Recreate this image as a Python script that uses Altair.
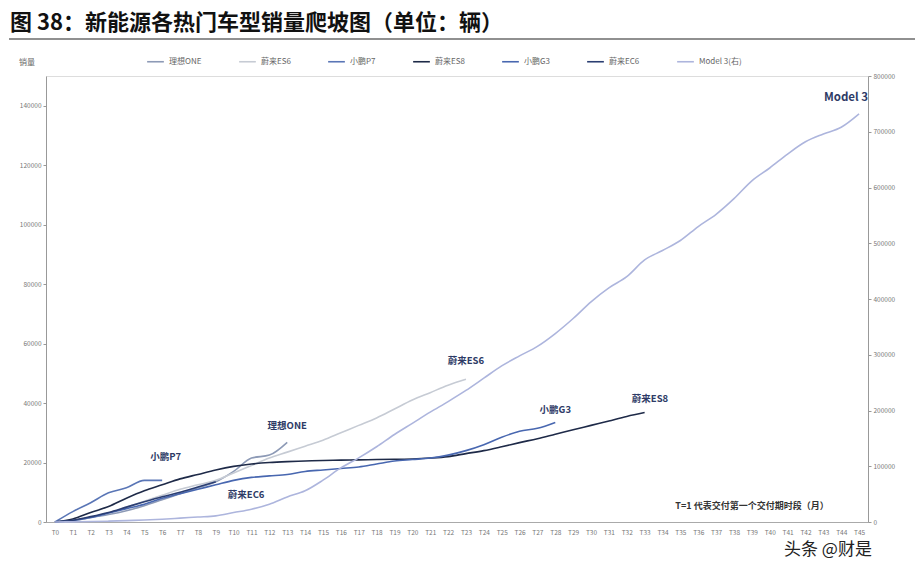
import altair as alt
import pandas as pd

# ---------------- data ----------------
T_INDEX = list(range(46))  # T0 .. T45

li_one = [0, 500, 1500, 2500, 3800, 5500, 7500, 9500, 11500, 13500, 17000, 21500, 22500, 26800]
nio_es6 = [0, 400, 1500, 3000, 5000, 7000, 9000, 11000, 12500, 14000, 16500, 19000, 21500, 23500,
           25500, 27500, 30000, 32500, 35000, 38000, 41000, 43500, 46000, 48000]
xpeng_p7 = [0, 3500, 6500, 9800, 11500, 14000, 14000]
nio_es8 = [0, 1000, 3200, 5200, 8000, 10500, 12500, 14500, 16000, 17500, 18700, 19500, 20000, 20300,
           20500, 20700, 20800, 20900, 21000, 21100, 21200, 21500, 22000, 23000, 24000, 25300, 26700,
           28000, 29500, 31000, 32500, 34000, 35500, 36800]
xpeng_g3 = [0, 500, 1500, 3000, 4500, 6000, 8000, 9500, 11000, 12500, 14000, 15000, 15500, 16000,
            17000, 17500, 18000, 18500, 19500, 20500, 21000, 21500, 22500, 24000, 26000, 28500, 30500,
            31500, 33500]
nio_ec6 = [0, 600, 1800, 3200, 5000, 6800, 8500, 10000, 11800, 13500]
model3 = [0, 300, 800, 1500, 2500, 3500, 5000, 7000, 9000, 11000, 17000, 23000, 32000, 45000, 56000,
          75000, 97000, 115000, 135000, 157000, 177000, 197000, 216000, 236000, 258000, 280000, 298000,
          315000, 338000, 365000, 395000, 420000, 440000, 470000, 487000, 505000, 530000, 552000,
          580000, 612000, 635000, 660000, 682000, 696000, 708000, 732000]

names = ["理想ONE", "蔚来ES6", "小鹏P7", "蔚来ES8", "小鹏G3", "蔚来EC6", "Model 3(右)"]
colors = ["#8d9ab6", "#c6cbd4", "#5a76b6", "#1e2a48", "#4867b0", "#2b3e72", "#adb5dd"]
widths = [1.6, 1.6, 1.6, 2.6, 1.6, 1.6, 1.6]

left_series = {"理想ONE": li_one, "蔚来ES6": nio_es6, "小鹏P7": xpeng_p7,
               "蔚来ES8": nio_es8, "小鹏G3": xpeng_g3, "蔚来EC6": nio_ec6}

# inline label anchors (T position, left-axis value)
label_names = ["小鹏P7", "理想ONE", "蔚来EC6", "蔚来ES6", "小鹏G3", "蔚来ES8"]
label_t = [6.2, 13.0, 10.7, 23.0, 28.0, 33.3]
label_v = [21800, 32200, 9000, 54000, 37600, 41300]

left_ticks = [0, 20000, 40000, 60000, 80000, 100000, 120000, 140000]
right_ticks = [0, 100000, 200000, 300000, 400000, 500000, 600000, 700000, 800000]

# ---------------- frames ----------------
rows = []
for n, vals in left_series.items():
    for i, v in enumerate(vals):
        rows.append({"name": n, "t": i, "v": v})
left_df = pd.DataFrame(rows)
right_df = pd.DataFrame({"name": "Model 3(右)", "t": T_INDEX, "v": model3})
lab_df = pd.DataFrame({"name": label_names, "t": label_t, "v": label_v})
one = pd.DataFrame({"a": [0]})

FONT = "Noto Sans CJK SC"
W, H = 822, 446

x_axis = alt.Axis(values=T_INDEX, labelExpr="'T' + datum.value", title=None,
                  labelFontSize=6.5, labelColor="#777", domainColor="#aaa",
                  tickSize=0, grid=False, labelAngle=0, labelPadding=7,
                  labelOverlap=False, tickCount=46)
x_scale = alt.Scale(domain=[-0.5, 45.5], nice=False, zero=False)

def xe():
    return alt.X("t:Q", scale=x_scale, axis=x_axis)

color_enc = alt.Color("name:N", scale=alt.Scale(domain=names, range=colors),
                      legend=alt.Legend(orient="none", legendX=100, legendY=-24,
                                        direction="horizontal", columns=7,
                                        symbolType="stroke", symbolSize=280,
                                        symbolStrokeWidth=2, labelFontSize=8,
                                        labelColor="#666", columnPadding=33,
                                        title=None, labelFont=FONT))
sw_enc = alt.StrokeWidth("name:N", scale=alt.Scale(domain=names, range=widths), legend=None)

left_lines = alt.Chart(left_df).mark_line(interpolate="monotone").encode(
    x=xe(),
    y=alt.Y("v:Q", scale=alt.Scale(domain=[0, 150000], nice=False),
            axis=alt.Axis(values=left_ticks, format="d", title=None, labelFontSize=6.5,
                          labelColor="#777", grid=False, domainColor="#999",
                          tickSize=3, tickColor="#999")),
    color=color_enc,
    strokeWidth=sw_enc,
    detail="name:N",
)

right_line = alt.Chart(right_df).mark_line(interpolate="monotone").encode(
    x=xe(),
    y=alt.Y("v:Q", scale=alt.Scale(domain=[0, 800000], nice=False),
            axis=alt.Axis(orient="right", values=right_ticks, format="d", title=None,
                          labelFontSize=6.5, labelColor="#777", grid=False,
                          domainColor="#999", tickSize=3, tickColor="#999")),
    color=alt.Color("name:N"),
    strokeWidth=alt.StrokeWidth("name:N"),
)

labels = alt.Chart(lab_df).mark_text(fontSize=9.5, fontWeight="bold", color="#2e3b66",
                                     font=FONT).encode(
    x=xe(),
    y=alt.Y("v:Q", scale=alt.Scale(domain=[0, 150000], nice=False), axis=None),
    text="name:N",
)

m3_label = alt.Chart(one).mark_text(text="Model 3", fontSize=11.5, fontWeight="bold",
                                    color="#2e3b66", font=FONT, align="center").encode(
    x=alt.value(800), y=alt.value(22))

title = alt.Chart(one).mark_text(text="图 38：新能源各热门车型销量爬坡图（单位：辆）", fontSize=22,
                                 fontWeight="bold", color="#111", font=FONT, align="left",
                                 baseline="middle").encode(x=alt.value(-36), y=alt.value(-53))

top_rule = alt.Chart(one).mark_rule(color="#222", strokeWidth=1.2).encode(
    x=alt.value(-37), x2=alt.value(872), y=alt.value(-37))
bottom_rule = alt.Chart(one).mark_rule(color="#222", strokeWidth=1.2).encode(
    x=alt.value(-37), x2=alt.value(860), y=alt.value(486))

ytitle = alt.Chart(one).mark_text(text="销量", fontSize=8, color="#666", font=FONT).encode(
    x=alt.value(-19), y=alt.value(-13))

note = alt.Chart(one).mark_text(text="T=1 代表交付第一个交付期时段（月）", fontSize=9,
                                fontWeight="bold", color="#333", font=FONT, align="center").encode(
    x=alt.value(706), y=alt.value(430))

watermark = alt.Chart(one).mark_text(text="头条 @财是", fontSize=17, color="#222", font=FONT,
                                     align="left").encode(x=alt.value(738), y=alt.value(474))

chart = alt.layer(
    left_lines, right_line, labels, m3_label, title, top_rule, bottom_rule, ytitle, note, watermark
).resolve_scale(y="independent").properties(
    width=W, height=H,
    padding={"left": 38, "top": 68, "right": 47, "bottom": 39},
    autosize=alt.AutoSizeParams(type="none"),
).configure_view(stroke=None).configure(font=FONT)

chart.save("out.html", embed_options={"renderer": "svg", "actions": False})
